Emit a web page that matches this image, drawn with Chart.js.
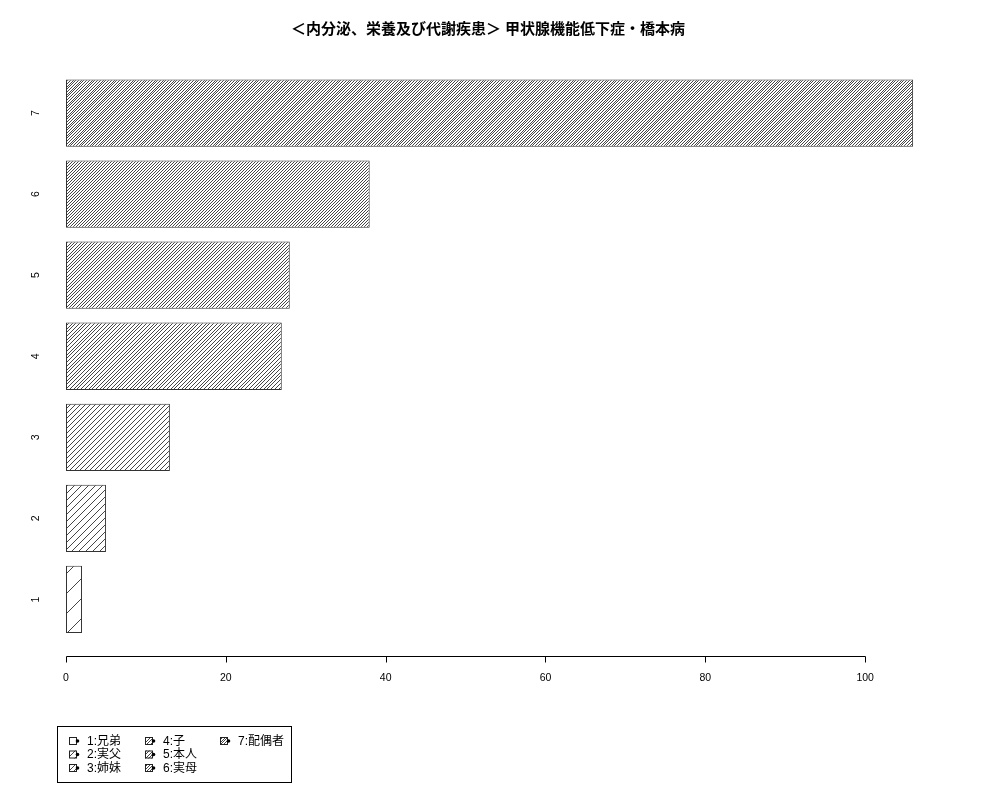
<!DOCTYPE html>
<html>
<head>
<meta charset="utf-8">
<script src="https://cdn.jsdelivr.net/npm/chart.js@4/dist/chart.umd.min.js"></script>
<style>
  html, body { margin: 0; padding: 0; background: #fff; }
  #wrap { width: 1000px; height: 800px; }
</style>
</head>
<body>
<div id="wrap"><canvas id="chart" width="1000" height="800"></canvas></div>
<script>
// --- data ---
const categories = ['1', '2', '3', '4', '5', '6', '7'];
const counts = [2, 5, 13, 27, 28, 38, 106];
const legendLabels = ['1:兄弟', '2:実父', '3:姉妹', '4:子', '5:本人', '6:実母', '7:配偶者'];
const xTicks = [0, 20, 40, 60, 80, 100];
const titleText = '＜内分泌、栄養及び代謝疾患＞ 甲状腺機能低下症・橋本病';

// hatch spacing per bar (px), denser for higher categories
const hatchSpacing = [20, 7, 5, 3.7, 3.3, 3, 2.7];

const latin = '"Liberation Sans", Arial, sans-serif';
const cjk = '"Liberation Sans", "Noto Sans CJK JP", sans-serif';

// 45° hatch tile drawn pixel by pixel (crisp stair-step lines)
function makeHatch(s) {
    const n = Math.max(1, Math.round(40 / s));
    const T = Math.round(n * s);
    const c = document.createElement('canvas');
    c.width = T; c.height = T;
    const g = c.getContext('2d');
    const img = g.createImageData(T, T);
    for (let py = 0; py < T; py++) {
        for (let px = 0; px < T; px++) {
            // "/" direction: constant along px + py
            const d = (px + py) % T;
            const on = Math.floor((d + 1) * n / T) !== Math.floor(d * n / T);
            const k = (py * T + px) * 4;
            const v = on ? 70 : 255;
            img.data[k] = v; img.data[k + 1] = v; img.data[k + 2] = v; img.data[k + 3] = 255;
        }
    }
    g.putImageData(img, 0, 0);
    return g.createPattern(c, 'repeat');
}
const patterns = hatchSpacing.map(makeHatch);

// title, rotated y labels, R-style x axis line and legend
const decorPlugin = {
    id: 'decor',
    afterDraw(chart) {
        const { ctx, scales: { x, y } } = chart;
        ctx.save();

        // title
        ctx.fillStyle = '#000';
        ctx.font = 'bold 15px ' + cjk;
        ctx.textAlign = 'center';
        ctx.textBaseline = 'middle';
        ctx.fillText(titleText, 488, 30);

        // y labels (rotated, reading bottom to top)
        ctx.font = '10.5px ' + latin;
        categories.forEach((cat, i) => {
            const py = y.getPixelForValue(i);
            ctx.save();
            ctx.translate(36, py);
            ctx.rotate(-Math.PI / 2);
            ctx.fillText(cat, 0, 0);
            ctx.restore();
        });

        // x axis line from first to last tick
        const axisY = 656.5;
        ctx.strokeStyle = '#000';
        ctx.lineWidth = 1;
        ctx.beginPath();
        ctx.moveTo(Math.round(x.getPixelForValue(xTicks[0])) + 0.5, axisY);
        ctx.lineTo(Math.round(x.getPixelForValue(xTicks[xTicks.length - 1])) + 0.5, axisY);
        xTicks.forEach(v => {
            const px = Math.round(x.getPixelForValue(v)) + 0.5;
            ctx.moveTo(px, axisY);
            ctx.lineTo(px, axisY + 6);
        });
        ctx.stroke();

        // legend box
        ctx.strokeRect(57.5, 726.5, 234, 56);
        const colX = [69, 145, 220];
        const rowY = [741, 754.5, 768];
        ctx.textAlign = 'left';
        ctx.font = '12px ' + cjk;
        legendLabels.forEach((lab, i) => {
            const cx = colX[Math.floor(i / 3)];
            const cy = rowY[i % 3];
            ctx.fillStyle = patterns[i];
            ctx.fillRect(cx, cy - 4, 8, 8);
            ctx.strokeStyle = '#222';
            ctx.strokeRect(cx + 0.5, cy - 3.5, 7, 7);
            ctx.fillStyle = '#000';
            ctx.beginPath();
            ctx.arc(cx + 8.5, cy, 1.8, 0, Math.PI * 2);
            ctx.fill();
            ctx.fillText(lab, cx + 18, cy + 0.5);
        });
        ctx.restore();
    }
};

new Chart(document.getElementById('chart').getContext('2d'), {
    type: 'bar',
    data: {
        labels: categories,
        datasets: [{
            label: 'count',
            data: counts,
            backgroundColor: patterns,
            borderColor: '#333',
            borderWidth: 1,
            borderSkipped: false,
            barPercentage: 0.83,
            categoryPercentage: 1
        }]
    },
    options: {
        indexAxis: 'y',
        responsive: false,
        animation: false,
        devicePixelRatio: 1,
        layout: { padding: { left: 66, right: 53, top: 72.5, bottom: 0 } },
        plugins: {
            legend: { display: false },
            title: { display: false },
            tooltip: { enabled: false }
        },
        scales: {
            x: {
                type: 'linear',
                min: 0,
                max: 110.24,
                grid: { display: false, drawTicks: false },
                border: { display: false },
                ticks: {
                    color: '#000',
                    font: { family: latin, size: 10.5 },
                    padding: 32,
                    maxRotation: 0
                },
                afterBuildTicks: scale => { scale.ticks = xTicks.map(v => ({ value: v })); },
                afterFit: scale => { scale.height = 160; }
            },
            y: {
                display: false,
                reverse: true
            }
        }
    },
    plugins: [decorPlugin]
});
</script>
</body>
</html>
